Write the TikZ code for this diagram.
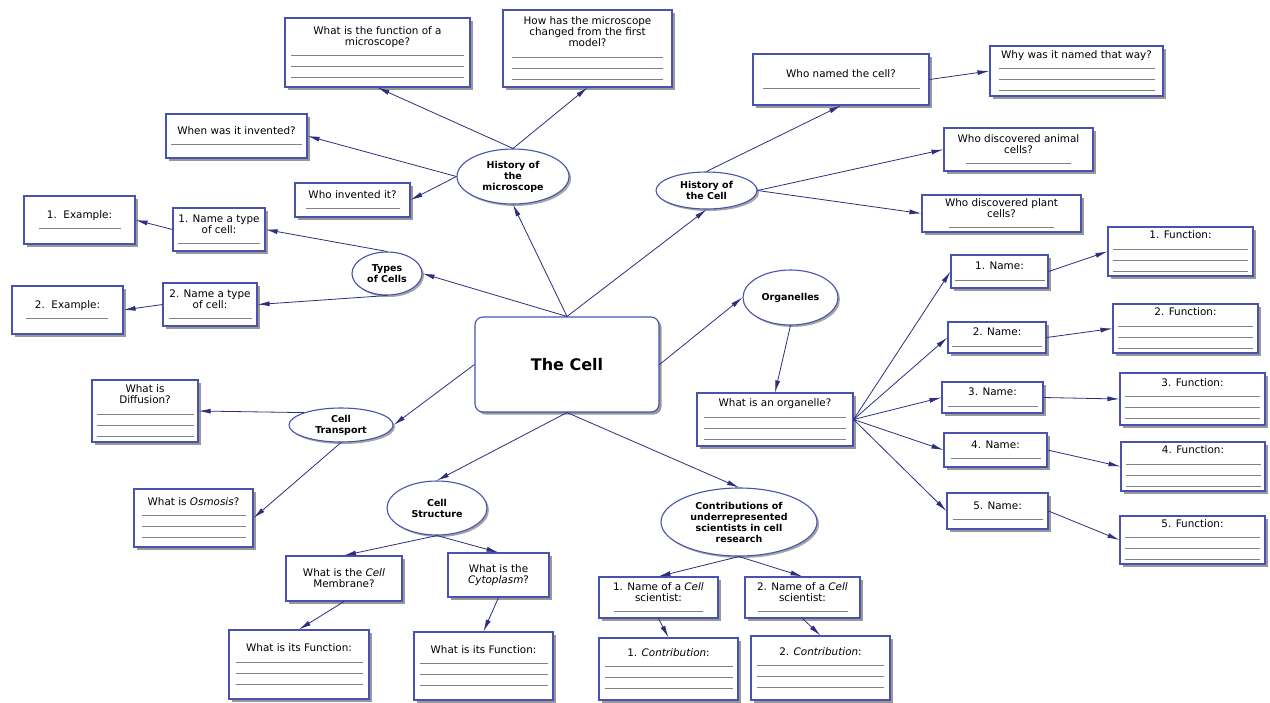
\documentclass[tikz,border=0pt]{standalone}
\usepackage{fontspec}
\setmainfont{DejaVu Sans}
\usetikzlibrary{arrows.meta,shapes.geometric,shadows}
\definecolor{boxblue}{RGB}{72,82,176}
\definecolor{linknavy}{RGB}{44,46,128}
\definecolor{blankgray}{RGB}{130,130,130}
\newcommand{\blank}[1]{\textcolor{blankgray}{\rule{#1}{1pt}}}
\newcommand{\blanks}[1]{\blank{#1}\\\blank{#1}\\\blank{#1}}

\begin{document}
\begin{tikzpicture}[x=1pt, y=-1pt,
  qbox/.style={rectangle, draw=boxblue, line width=1.1pt, fill=white,
               drop shadow={shadow xshift=2.5pt, shadow yshift=-2.5pt, fill=black!40, opacity=1},
               font=\fontsize{10.4}{11}\selectfont, align=center, inner sep=2pt},
  topic/.style={ellipse, draw=boxblue, line width=1.1pt, fill=white,
                drop shadow={shadow xshift=2pt, shadow yshift=-2pt, fill=black!35, opacity=1},
                font=\fontsize{9.5}{11}\selectfont\bfseries, align=center, inner sep=0pt},
  arr/.style={-{Latex[length=12pt,width=5pt]}, draw=linknavy, line width=0.8pt}
]
\useasboundingbox (0,0) rectangle (1270,702);
\fill[white] (0,0) rectangle (1270,702);

% Centre: The Cell
\node[qbox, rounded corners=8pt, minimum width=184pt, minimum height=95pt,
      font=\fontsize{16}{18}\selectfont\bfseries] (cell) at (567,364.5) {The Cell};

% History of the microscope
\node[topic, minimum width=112pt, minimum height=55pt] (hmic) at (513,176.5) {History of\\the\\microscope};
\node[qbox, minimum width=185pt, minimum height=69pt] (func) at (377.5,52.5) {What is the function of a\\microscope?\\\blanks{173pt}};
\node[qbox, minimum width=169pt, minimum height=77pt] (change) at (587.5,48.5) {How has the microscope\\changed from the first\\model?\\\blanks{151pt}};
\node[qbox, minimum width=141pt, minimum height=44pt] (when) at (236.5,136) {When was it invented?\\\blank{131pt}};
\node[qbox, minimum width=115pt, minimum height=34pt] (whoinv) at (352.5,200) {Who invented it?\\\blank{94pt}};

% History of the Cell
\node[topic, minimum width=101pt, minimum height=37pt] (hcell) at (706.5,190.5) {History of\\the Cell};
\node[qbox, minimum width=176pt, minimum height=51pt] (named) at (841,79.5) {Who named the cell?\\\blank{157pt}};
\node[qbox, minimum width=173pt, minimum height=50pt] (whyname) at (1076.5,71) {Why was it named that way?\\\blanks{156pt}};
\node[qbox, minimum width=149pt, minimum height=43pt] (animal) at (1018.5,149.5) {Who discovered animal\\cells?\\\blank{105pt}};
\node[qbox, minimum width=159pt, minimum height=37pt] (plant) at (1001.5,213.5) {Who discovered plant\\cells?\\\blank{105pt}};

% Types of Cells
\node[topic, minimum width=70pt, minimum height=43pt] (tcells) at (387,273.5) {Types\\of Cells};
\node[qbox, minimum width=92pt, minimum height=43pt] (name1) at (219,229.5) {1. Name a type\\of cell:\\\blank{82pt}};
\node[qbox, minimum width=111pt, minimum height=48pt] (ex1) at (79.5,220) {1.\ \ Example:\\\blank{82pt}};
\node[qbox, minimum width=94pt, minimum height=43pt] (name2) at (210,304.5) {2. Name a type\\of cell:\\\blank{83pt}};
\node[qbox, minimum width=111pt, minimum height=48pt] (ex2) at (67.5,310) {2.\ \ Example:\\\blank{82pt}};

% Organelles
\node[topic, minimum width=95pt, minimum height=55pt] (organ) at (790.5,297.5) {Organelles};
\node[qbox, minimum width=156pt, minimum height=53pt] (whatorg) at (775,419.5) {What is an organelle?\\\blanks{142pt}};
\node[qbox, minimum width=97pt, minimum height=33pt] (n1) at (999.5,271.5) {1. Name:\\\blank{90pt}};
\node[qbox, minimum width=98pt, minimum height=31pt] (n2) at (997,337.5) {2. Name:\\\blank{90pt}};
\node[qbox, minimum width=101pt, minimum height=31pt] (n3) at (992.5,397.5) {3. Name:\\\blank{90pt}};
\node[qbox, minimum width=103pt, minimum height=34pt] (n4) at (995.5,450) {4. Name:\\\blank{90pt}};
\node[qbox, minimum width=101pt, minimum height=36pt] (n5) at (997.5,511) {5. Name:\\\blank{90pt}};
\node[qbox, minimum width=145pt, minimum height=49pt] (f1) at (1180.5,251.5) {1. Function:\\\blanks{135pt}};
\node[qbox, minimum width=145pt, minimum height=49pt] (f2) at (1185.5,328.5) {2. Function:\\\blanks{135pt}};
\node[qbox, minimum width=145pt, minimum height=52pt] (f3) at (1192.5,399) {3. Function:\\\blanks{135pt}};
\node[qbox, minimum width=144pt, minimum height=49pt] (f4) at (1193,466.5) {4. Function:\\\blanks{135pt}};
\node[qbox, minimum width=145pt, minimum height=48pt] (f5) at (1192.5,540) {5. Function:\\\blanks{135pt}};

% Cell Transport
\node[topic, minimum width=104pt, minimum height=34pt] (ctrans) at (341,425) {Cell\\Transport};
\node[qbox, minimum width=106pt, minimum height=62pt] (diff) at (145,411) {What is\\Diffusion?\\\blanks{97pt}};
\node[qbox, minimum width=119pt, minimum height=58pt] (osmo) at (193.5,518) {What is \textit{Osmosis}?\\\blanks{104pt}};

% Cell Structure
\node[topic, minimum width=100pt, minimum height=54pt] (cstruct) at (437,508) {Cell\\Structure};
\node[qbox, minimum width=116pt, minimum height=45pt] (memb) at (344,578.5) {What is the \textit{Cell}\\Membrane?};
\node[qbox, minimum width=101pt, minimum height=44pt] (cyto) at (498.5,575) {What is the\\\textit{Cytoplasm}?};
\node[qbox, minimum width=140pt, minimum height=69pt] (func1) at (299,664.5) {What is its Function:\\\blanks{127pt}};
\node[qbox, minimum width=139pt, minimum height=68pt] (func2) at (483.5,666) {What is its Function:\\\blanks{128pt}};

% Contributions of scientists
\node[topic, minimum width=156pt, minimum height=68pt] (contrib) at (739,522) {Contributions of\\underrepresented\\scientists in cell\\research};
\node[qbox, minimum width=119pt, minimum height=41pt] (sci1) at (658.5,597.5) {1. Name of a \textit{Cell}\\scientist:\\\blank{89pt}};
\node[qbox, minimum width=115pt, minimum height=41pt] (sci2) at (802.5,597.5) {2. Name of a \textit{Cell}\\scientist:\\\blank{90pt}};
\node[qbox, minimum width=139pt, minimum height=62pt] (contr1) at (668.5,669) {1. \textit{Contribution}:\\\blanks{128pt}};
\node[qbox, minimum width=139pt, minimum height=64pt] (contr2) at (820.5,668) {2. \textit{Contribution}:\\\blanks{127pt}};

% Arrows from the centre
\draw[arr] (cell.north) -- (tcells.east);
\draw[arr] (cell.north) -- (hmic.south);
\draw[arr] (cell.north) -- (hcell.south);
\draw[arr] (cell.east) -- (organ.west);
\draw[arr] (cell.west) -- (ctrans.east);
\draw[arr] (cell.south) -- (cstruct.north);
\draw[arr] (cell.south) -- (contrib.north);

% Arrows: history
\draw[arr] (hmic.north) -- (func.south);
\draw[arr] (hmic.north) -- (change.south);
\draw[arr] (hmic.west) -- (when.east);
\draw[arr] (hmic.west) -- (whoinv.east);
\draw[arr] (hcell.north) -- (named.south);
\draw[arr] (named.east) -- (whyname.west);
\draw[arr] (hcell.east) -- (animal.west);
\draw[arr] (hcell.east) -- (plant.west);

% Arrows: types of cells
\draw[arr] (tcells.north) -- (name1.east);
\draw[arr] (name1.west) -- (ex1.east);
\draw[arr] (tcells.south) -- (name2.east);
\draw[arr] (name2.west) -- (ex2.east);

% Arrows: organelles
\draw[arr] (organ.south) -- (whatorg.north);
\foreach \i in {1,...,5} {
  \draw[arr] (whatorg.east) -- (n\i.west);
  \draw[arr] (n\i.east) -- (f\i.west);
}

% Arrows: transport and structure
\draw[arr] (ctrans.north west) -- (diff.east);
\draw[arr] (ctrans.south) -- (osmo.east);
\draw[arr] (cstruct.south) -- (memb.north);
\draw[arr] (cstruct.south) -- (cyto.north);
\draw[arr] (memb.south) -- (func1.north);
\draw[arr] (cyto.south) -- (func2.north);

% Arrows: scientists
\draw[arr] (contrib.south) -- (sci1.north);
\draw[arr] (contrib.south) -- (sci2.north);
\draw[arr] (sci1.south) -- (contr1.north);
\draw[arr] (sci2.south) -- (contr2.north);
\end{tikzpicture}
\end{document}
